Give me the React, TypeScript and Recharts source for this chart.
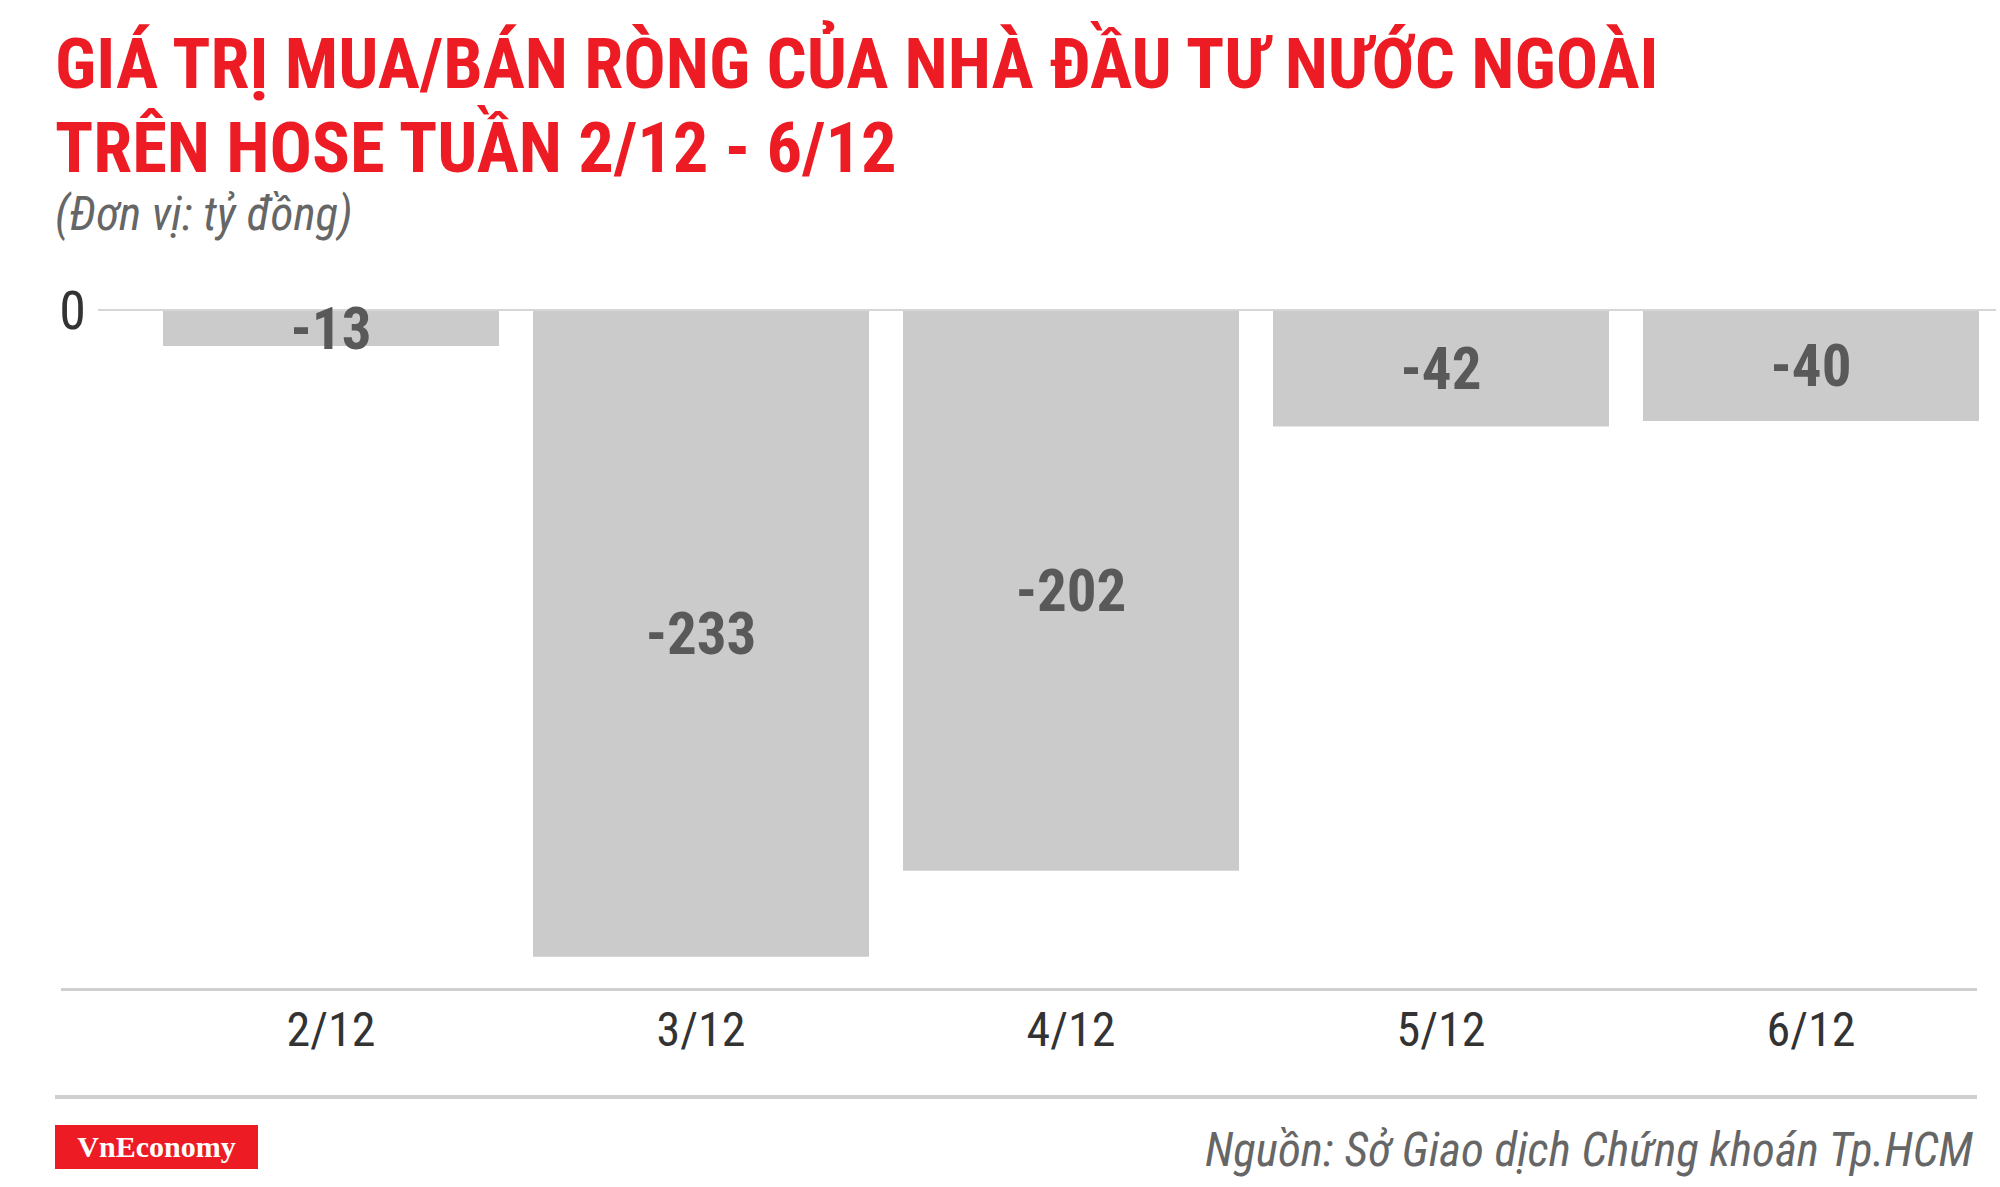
import { BarChart, Bar, XAxis, YAxis, ReferenceLine, LabelList } from "recharts";

const days = ["2/12", "3/12", "4/12", "5/12", "6/12"];
const netValues = [-13, -233, -202, -42, -40];
const yTicks = [0];

const data = days.map((day, i) => ({ day, value: netValues[i] }));

const RED = "#ed1c24";
const BAR = "#cccbcc";
const LABEL = "#595959";
const COND = "'Roboto Condensed', Roboto, sans-serif";

export default function App() {
  return (
    <div style={{ position: "absolute", left: 0, top: 0, width: 2000, height: 1187, background: "#fff", fontFamily: COND }}>
      <div style={{ position: "absolute", left: 55, top: 22, fontSize: 70.5, lineHeight: "84px", fontWeight: 700, color: RED, whiteSpace: "nowrap" }}>
        GIÁ TRỊ MUA/BÁN RÒNG CỦA NHÀ ĐẦU TƯ NƯỚC NGOÀI
        <br />
        TRÊN HOSE TUẦN 2/12 - 6/12
      </div>
      <div style={{ position: "absolute", left: 55, top: 186, fontSize: 47, lineHeight: "56px", fontStyle: "italic", color: "#666", whiteSpace: "nowrap" }}>
        (Đơn vị: tỷ đồng)
      </div>

      <div style={{ position: "absolute", left: 0, top: 0 }}>
        <BarChart width={2000} height={1187} data={data} margin={{ top: 310, right: 4, bottom: 117, left: 0 }} barSize={336}>
          <YAxis
            domain={[-245, 0]}
            ticks={yTicks}
            width={98}
            axisLine={false}
            tickLine={false}
            tickSize={0}
            tickMargin={12}
            tick={{ fill: "#333", fontSize: 54, fontFamily: COND }}
          />
          <XAxis
            dataKey="day"
            height={80}
            axisLine={false}
            tickLine={false}
            tickSize={0}
            tickMargin={22}
            padding={{ left: 48, right: 0 }}
            tick={{ fill: "#333", fontSize: 48, fontFamily: COND }}
          />
          <ReferenceLine y={0} stroke="#d6d6d6" strokeWidth={2} />
          <Bar dataKey="value" fill={BAR} isAnimationActive={false}>
            <LabelList dataKey="value" position="center" fill={LABEL} fontSize={59} fontWeight={700} fontFamily={COND} />
          </Bar>
        </BarChart>
      </div>

      {/* axis rule and footer rule */}
      <div style={{ position: "absolute", left: 61, top: 988, width: 1916, height: 3, background: "#d0cfd0" }} />
      <div style={{ position: "absolute", left: 55, top: 1095, width: 1922, height: 4, background: "#d0cfd0" }} />

      <div style={{ position: "absolute", left: 55, top: 1125, width: 203, height: 44, background: RED, color: "#fff", fontFamily: "'Liberation Serif', serif", fontWeight: 700, fontSize: 30, lineHeight: "44px", textAlign: "center" }}>
        VnEconomy
      </div>
      <div style={{ position: "absolute", right: 27, top: 1125, fontSize: 47, lineHeight: "50px", fontStyle: "italic", color: "#666", whiteSpace: "nowrap" }}>
        Nguồn: Sở Giao dịch Chứng khoán Tp.HCM
      </div>
    </div>
  );
}
